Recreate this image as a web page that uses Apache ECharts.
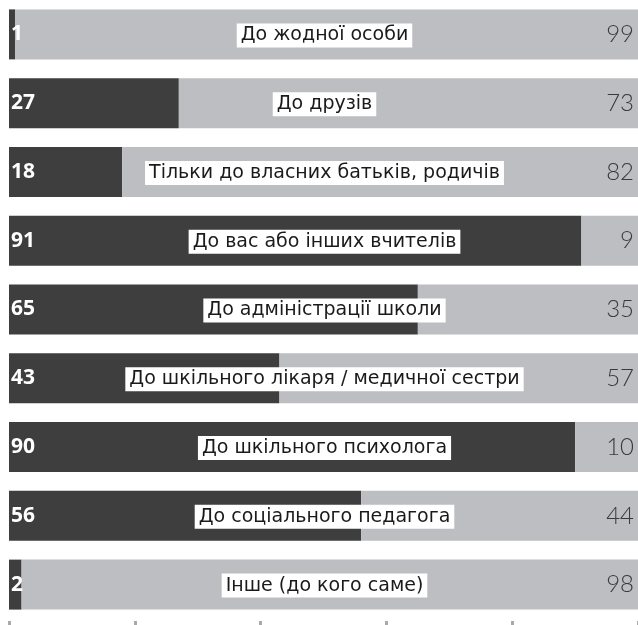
<!DOCTYPE html>
<html><head><meta charset="utf-8">
<script src="https://cdn.jsdelivr.net/npm/echarts@6/dist/echarts.min.js"></script>
<style>html,body{margin:0;padding:0;background:#fff}#c{width:638px;height:625px}</style>
</head><body><div id="c"></div>
<script>
const categories = [
  "До жодної особи",
  "До друзів",
  "Тільки до власних батьків, родичів",
  "До вас або інших вчителів",
  "До адміністрації школи",
  "До шкільного лікаря / медичної сестри",
  "До шкільного психолога",
  "До соціального педагога",
  "Інше (до кого саме)"
];
const yesValues = [1, 27, 18, 91, 65, 43, 90, 56, 2];
const restValues = [99, 73, 82, 9, 35, 57, 10, 44, 98];
const xTicks = [0, 20, 40, 60, 80, 100];

const chart = echarts.init(document.getElementById('c'), null, {renderer: 'canvas'});
chart.setOption({
  animation: false,
  grid: {left: 9, top: 0, width: 631, height: 619, containLabel: false},
  xAxis: {
    type: 'value', min: xTicks[0], max: xTicks[xTicks.length - 1], interval: 20,
    offset: 2,
    axisLine: {show: false},
    axisTick: {show: true, length: 4, lineStyle: {color: '#a9a9a9', width: 3}},
    axisLabel: {show: false},
    splitLine: {show: false}
  },
  yAxis: {
    type: 'category', data: categories, inverse: true,
    axisLine: {show: false}, axisTick: {show: false}, axisLabel: {show: false}
  },
  series: [
    {
      type: 'bar', stack: 's', data: yesValues, barWidth: 50,
      itemStyle: {color: '#3e3e3e'},
      label: {
        show: true, position: [2, '50%'], verticalAlign: 'middle', align: 'left',
        color: '#fff', fontFamily: 'Open Sans', fontWeight: 'bold', fontSize: 21
      }
    },
    {
      type: 'bar', stack: 's', data: restValues, barWidth: 50,
      itemStyle: {color: '#bdbec2'},
      label: {
        show: true, position: 'insideRight', distance: 4,
        color: '#3a3a3a', fontFamily: 'Lato', fontWeight: 300, fontSize: 24
      }
    },
    {
      type: 'scatter', symbolSize: 0, z: 10,
      itemStyle: {opacity: 1},
      data: categories.map(c => [50, c]),
      label: {
        show: true, position: 'inside', offset: [1, 1], formatter: p => p.data[1],
        color: '#1a1a1a', backgroundColor: '#ffffff', padding: [3, 4, 2, 4],
        fontFamily: 'DejaVu Sans', fontSize: 19
      }
    }
  ]
});
</script></body></html>
